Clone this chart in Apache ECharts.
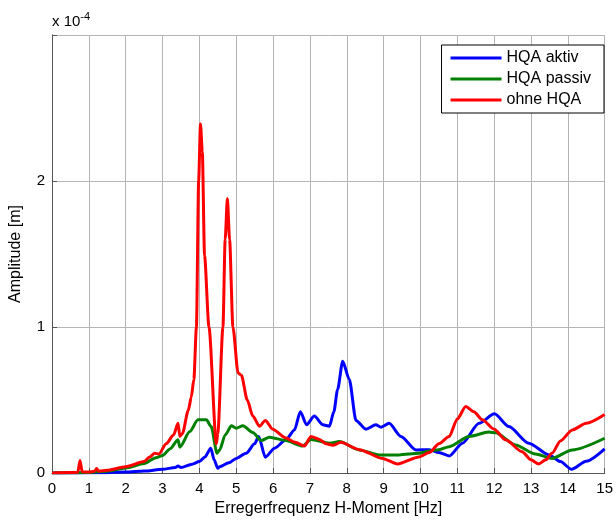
<!DOCTYPE html>
<html><head><meta charset="utf-8">
<script src="https://cdn.jsdelivr.net/npm/echarts@6/dist/echarts.min.js"></script>
<style>html,body{margin:0;padding:0;background:#fff}#c{width:616px;height:522px}</style>
</head><body><div id="c"></div>
<script>
// Amplitude values in units of 1e-4 m
const aktivX = [0,1.2,2.0,2.5,3.0,3.35,3.42,3.5,3.8,4.0,4.15,4.31,4.4,4.5,4.55,4.8,5.0,5.27,5.5,5.61,5.79,6.04,6.35,6.58,6.74,6.91,7.12,7.35,7.53,7.65,7.75,7.89,8.07,8.25,8.52,8.79,8.93,9.15,9.47,9.88,10.24,10.5,10.78,11.14,11.59,12.01,12.4,12.94,13.49,13.8,14.1,14.5,15.0];
const aktivY = [0,0.001,0.006,0.013,0.025,0.038,0.048,0.038,0.06,0.078,0.11,0.17,0.09,0.032,0.043,0.07,0.10,0.135,0.2,0.25,0.108,0.17,0.227,0.295,0.42,0.33,0.39,0.33,0.32,0.42,0.57,0.765,0.64,0.36,0.30,0.33,0.314,0.34,0.25,0.158,0.16,0.14,0.117,0.204,0.34,0.405,0.318,0.204,0.124,0.078,0.025,0.08,0.165];

const passivX = [0,1.0,1.5,2.0,2.5,2.82,3.0,3.2,3.42,3.47,3.74,3.96,4.19,4.32,4.48,4.55,4.7,4.87,5.0,5.18,5.45,5.68,5.9,6.35,6.8,7.03,7.53,7.8,8.34,8.88,9.42,9.96,10.24,10.5,10.78,11.32,11.86,12.04,12.58,13.12,13.57,14.12,15.0];
const passivY = [0,0.004,0.012,0.035,0.065,0.105,0.12,0.165,0.227,0.177,0.284,0.364,0.364,0.318,0.135,0.158,0.26,0.323,0.307,0.323,0.277,0.222,0.245,0.222,0.185,0.23,0.204,0.215,0.158,0.124,0.124,0.135,0.151,0.16,0.18,0.25,0.28,0.275,0.192,0.13,0.1,0.158,0.238];

const ohneX = [0,0.5,0.7,0.76,0.82,1.0,1.15,1.21,1.27,1.5,2.0,2.5,2.65,2.79,2.9,3.1,3.3,3.42,3.47,3.54,3.7,3.78,3.85,3.92,3.98,4.03,4.08,4.14,4.26,4.46,4.5,4.64,4.7,4.76,4.82,4.91,5.05,5.14,5.3,5.45,5.63,5.79,5.99,6.35,6.6,6.85,7.03,7.26,7.44,7.62,7.84,8.34,8.97,9.38,9.96,10.24,10.5,10.78,11.0,11.23,11.45,11.68,12.0,12.31,12.76,13.0,13.21,13.4,13.57,13.8,14.12,14.5,15.0];
const ohneY = [0,0.003,0.005,0.085,0.008,0.006,0.012,0.03,0.012,0.018,0.043,0.078,0.11,0.135,0.13,0.2,0.26,0.34,0.25,0.27,0.43,0.52,0.64,1.0,2.0,2.39,2.2,1.49,1.0,0.2,0.27,1.0,1.6,1.88,1.6,1.0,0.685,0.67,0.5,0.39,0.32,0.36,0.30,0.24,0.21,0.185,0.25,0.23,0.20,0.19,0.21,0.16,0.10,0.062,0.11,0.14,0.2,0.25,0.37,0.456,0.42,0.364,0.3,0.227,0.146,0.09,0.062,0.09,0.135,0.22,0.295,0.34,0.40];

const seriesNames = ['HQA aktiv','HQA passiv','ohne HQA'];
const xTicks = [0,1,2,3,4,5,6,7,8,9,10,11,12,13,14,15];
const yTicks = [0,1,2];

function pairs(xs, ys){ return xs.map((x,i)=>[x, ys[i]]); }

const FONT = 'Liberation Sans, Arial, sans-serif';
const chart = echarts.init(document.getElementById('c'), null, {renderer:'canvas'});
const gridColor = '#b4b4b4';
const axisColor = '#555';
function mkLine(name, data, color, z){
  return {name, type:'line', data, showSymbol:false, symbol:'none', smooth:0.25, smoothMonotone:'x',
    lineStyle:{color, width:3}, itemStyle:{color}, z, clip:true};
}
chart.setOption({
  animation:false,
  backgroundColor:'#fff',
  grid:{left:52, right:10, top:35, bottom:49, containLabel:false},
  xAxis:[{
    type:'value', min:0, max:15, interval:1,
    axisLine:{show:true, lineStyle:{color:axisColor, width:1}},
    axisTick:{show:true, inside:true, length:5, lineStyle:{color:axisColor}},
    axisLabel:{color:'#000', fontSize:15, fontFamily:FONT, margin:8,
      formatter:v=> xTicks.includes(v) ? String(v) : ''},
    splitLine:{show:true, lineStyle:{color:gridColor, width:1}},
    name:'Erregerfrequenz H-Moment [Hz]', nameLocation:'middle', nameGap:27,
    nameTextStyle:{color:'#000', fontSize:16, fontFamily:FONT}
  },{
    type:'value', position:'top', min:0, max:15, interval:1,
    axisLine:{show:true, lineStyle:{color:axisColor}},
    axisTick:{show:false},
    axisLabel:{show:false}, splitLine:{show:false}
  }],
  yAxis:[{
    type:'value', min:0, max:3, interval:1,
    axisLine:{show:true, lineStyle:{color:axisColor, width:1}},
    axisTick:{show:true, inside:true, length:5, lineStyle:{color:axisColor}},
    axisLabel:{color:'#000', fontSize:15, fontFamily:FONT, margin:7,
      formatter:v=> yTicks.includes(v) ? String(v) : ''},
    splitLine:{show:true, lineStyle:{color:gridColor, width:1}},
    name:'Amplitude [m]', nameLocation:'middle', nameGap:28, nameRotate:90,
    nameTextStyle:{color:'#000', fontSize:16, fontFamily:FONT}
  },{
    type:'value', position:'right', min:0, max:3, interval:1,
    axisLine:{show:true, lineStyle:{color:axisColor}},
    axisTick:{show:false},
    axisLabel:{show:false}, splitLine:{show:false}
  }],
  legend:{
    orient:'vertical', right:12, top:45,
    data:seriesNames.map(n=>({name:n, icon:'rect'})),
    itemWidth:51, itemHeight:3, itemGap:5,
    padding:[5,13,5,9],
    backgroundColor:'#fff', borderColor:'#000', borderWidth:1, borderRadius:0,
    textStyle:{color:'#000', fontSize:16, fontFamily:FONT, lineHeight:16}
  },
  graphic:[{
    type:'text', left:52, top:11,
    style:{rich:{a:{fontSize:15, fontFamily:FONT, fill:'#000'}, s:{fontSize:11, fontFamily:FONT, fill:'#000', verticalAlign:'top', padding:[0,0,10,0]}},
      text:'{a|x 10}{s|-4}'}
  }],
  series:[
    mkLine(seriesNames[0], pairs(aktivX, aktivY), '#0000ff', 3),
    mkLine(seriesNames[1], pairs(passivX, passivY), '#008000', 4),
    mkLine(seriesNames[2], pairs(ohneX, ohneY), '#ff0000', 5)
  ]
});
</script></body></html>
